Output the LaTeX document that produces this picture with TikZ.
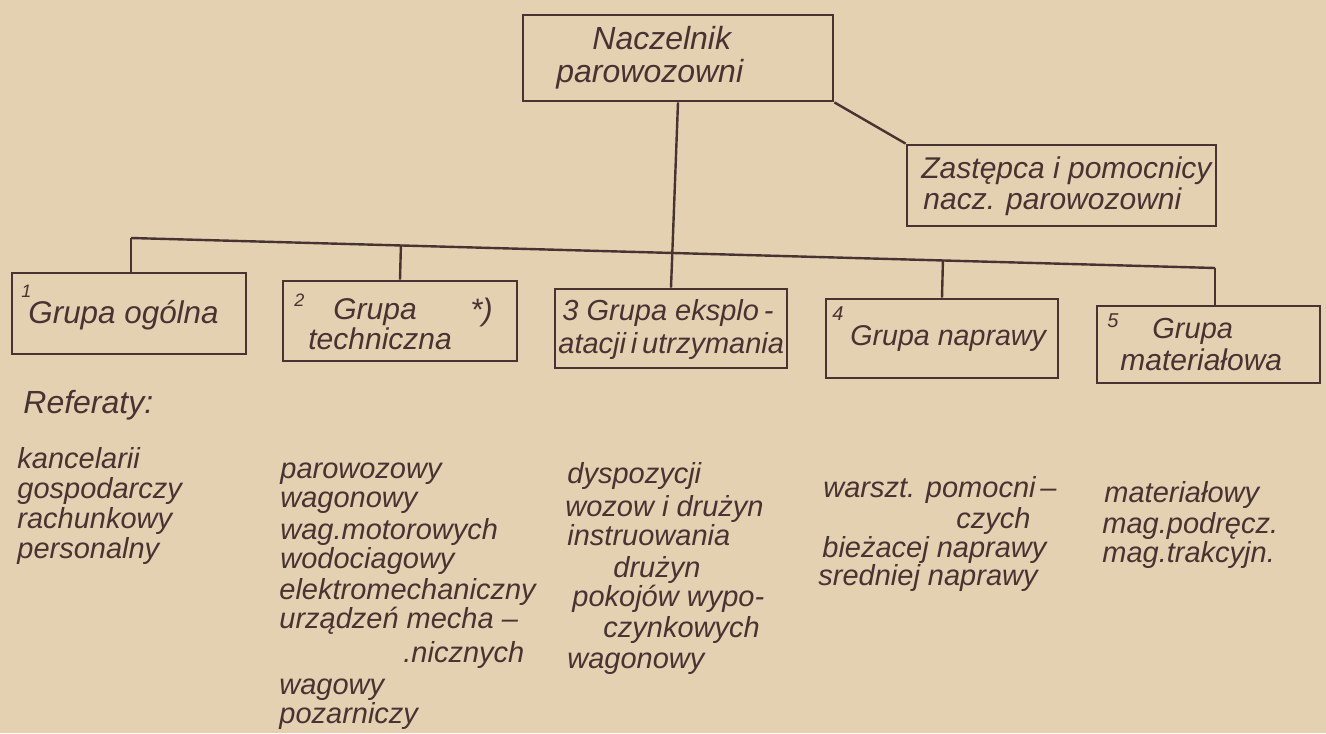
\documentclass[tikz,border=0pt]{standalone}
\usepackage{fontspec}
\setmainfont{Liberation Sans}
\usetikzlibrary{calc}
\definecolor{paper}{RGB}{228,209,178}
\definecolor{ink}{RGB}{72,50,50}
\newcommand{\fs}[1]{\itshape\fontsize{#1}{#1}\selectfont}
\begin{document}
\begin{tikzpicture}[x=0.5pt,y=-0.5pt,
  box/.style={draw=ink, line width=1.4pt, inner sep=0pt, rectangle},
  conn/.style={draw=ink, line width=1.2pt},
  txt/.style={anchor=base west, inner sep=0pt, text=ink, font=\fs{15.5}},
  lst/.style={anchor=base west, inner sep=0pt, text=ink, font=\fs{14.5}},
  num/.style={anchor=base west, inner sep=0pt, text=ink, font=\fs{9}}]
\fill[paper] (0,0) rectangle (1326,733);
\useasboundingbox (0,0) rectangle (1326,733);

% boxes
\node[box, minimum width=155pt, minimum height=43pt] (n) at (678,58) {};
\node[box, minimum width=154.5pt, minimum height=40.5pt] (z) at (1061.5,185.5) {};
\node[box, minimum width=117pt, minimum height=40.5pt] (g1) at (129,313.5) {};
\node[box, minimum width=117pt, minimum height=40pt] (g2) at (400,321) {};
\node[box, minimum width=116pt, minimum height=39.5pt] (g3) at (671,328.5) {};
\node[box, minimum width=116pt, minimum height=39.5pt] (g4) at (942,338.5) {};
\node[box, minimum width=111.5pt, minimum height=38.5pt] (g5) at (1208.5,344.5) {};

% connectors
\coordinate (b1) at (131,238);
\coordinate (b5) at (1215,268);
\coordinate (b2) at ($(b1)!(g2.north)!(b5)$);
\coordinate (b4) at ($(b1)!(g4.north)!(b5)$);
\draw[conn] (b1) -- (b5);
\draw[conn] (b1) -- (b1 |- g1.north);
\draw[conn] (b2) -- (g2.north);
\draw[conn] (b4) -- (g4.north);
\draw[conn] (b5) -- (b5 |- g5.north);
\draw[conn] (n.south) -- (g3.north);
\draw[conn] (n.south east) -- (z.north west);

% box texts
\node[txt, font=\fs{16}] (n1) at (592,50) {Naczelnik};
\node[txt, font=\fs{16}] (n2) at (556,83) {parowozowni};
\node[txt, font=\fs{15}] (z1) at (921,178) {Zastępca i pomocnicy};
\node[txt, font=\fs{15}] (z2) at (923,209) {nacz. parowozowni};

\node[num] (k1) at (21,297) {1};
\node[txt, font=\fs{15.7}] (t1) at (28,323) {Grupa ogólna};

\node[num] (k2) at (294,306) {2};
\node[txt, font=\fs{15}] (t2a) at (333,319) {Grupa};
\node[txt, font=\fs{15}] (t2b) at (308,349) {techniczna};
\node[txt] (t2c) at (470,320) {*)};

\node[txt, font=\fs{14.5}] (t3a) at (562,320) {3 Grupa eksplo\,-};
\node[txt, font=\fs{14.5}] (t3b) at (558,353) {atacji\,i\,utrzymania};

\node[num, font=\fs{10}] (k4) at (832,320) {4};
\node[txt, font=\fs{14.3}] (t4) at (850,345) {Grupa naprawy};

\node[num, font=\fs{10}] (k5) at (1107,327) {5};
\node[txt, font=\fs{14.5}] (t5a) at (1152,338) {Grupa};
\node[txt, font=\fs{15}] (t5b) at (1120,370) {materiałowa};

% lists
\node[txt, font=\fs{16}] (ref) at (23,413) {Referaty:};

\node[lst] (a1) at (17,468) {kancelarii};
\node[lst] (a2) at (17,498) {gospodarczy};
\node[lst] (a3) at (17,528) {rachunkowy};
\node[lst] (a4) at (17,558) {personalny};

\node[lst] (c1) at (280,478) {parowozowy};
\node[lst] (c2) at (280,507) {wagonowy};
\node[lst] (c3) at (280,539) {wag.motorowych};
\node[lst] (c4) at (280,568) {wodociagowy};
\node[lst] (c5) at (279,599) {elektromechaniczny};
\node[lst] (c6) at (279,628) {urządzeń mecha –};
\node[lst] (c7) at (403,662) {.nicznych};
\node[lst] (c8) at (279,694) {wagowy};
\node[lst] (c9) at (279,723) {pozarniczy};

\node[lst] (d1) at (567,483) {dyspozycji};
\node[lst] (d2) at (565,516) {wozow i drużyn};
\node[lst] (d3) at (567,545) {instruowania};
\node[lst] (d4) at (613,577) {drużyn};
\node[lst] (d5) at (572,606) {pokojów wypo-};
\node[lst] (d6) at (603,637) {czynkowych};
\node[lst] (d7) at (567,668) {wagonowy};

\node[lst] (e1) at (823,497) {warszt. pomocni\,–};
\node[lst] (e2) at (956,528) {czych};
\node[lst] (e3) at (822,557) {bieżacej naprawy};
\node[lst] (e4) at (818,585) {sredniej naprawy};

\node[lst] (f1) at (1104,502) {materiałowy};
\node[lst] (f2) at (1102,533) {mag.podręcz.};
\node[lst] (f3) at (1102,562) {mag.trakcyjn.};
\end{tikzpicture}
\end{document}
